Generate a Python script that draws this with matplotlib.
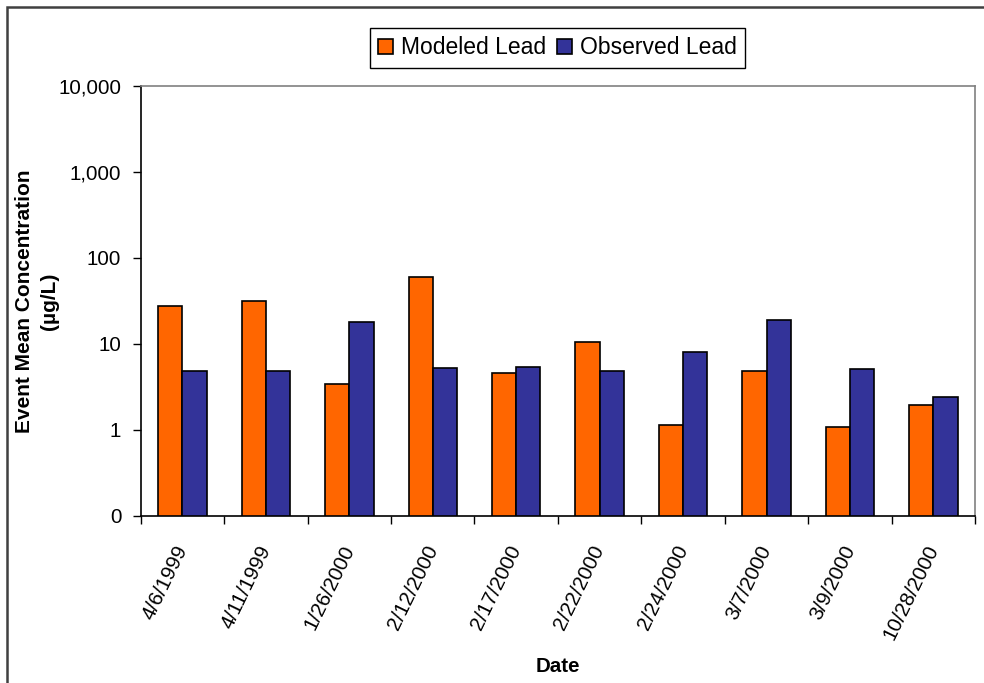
import matplotlib
matplotlib.use('Agg')
import matplotlib.pyplot as plt
from matplotlib.patches import Rectangle
import numpy as np

plt.rcParams['font.family'] = ['Liberation Sans', 'DejaVu Sans']

# datos
fechas = ['4/6/1999', '4/11/1999', '1/26/2000', '2/12/2000', '2/17/2000',
          '2/22/2000', '2/24/2000', '3/7/2000', '3/9/2000', '10/28/2000']
modelado = [27.8, 31.6, 3.43, 59.5, 4.6, 10.5, 1.14, 4.85, 1.09, 1.96]
observado = [4.85, 4.85, 17.9, 5.25, 5.4, 4.85, 8.0, 18.8, 5.07, 2.43]

y_ticks = [0.1, 1, 10, 100, 1000, 10000]
y_labels = ['0', '1', '10', '100', '1,000', '10,000']

# figura
fig = plt.figure(figsize=(9.84, 6.83), dpi=100)
ax = fig.add_axes([0.143, 0.245, 0.848, 0.629])

x = np.arange(len(fechas))
w = 0.29
ax.set_yscale('log')
ax.bar(x - w / 2, modelado, w, color='#FF6600', edgecolor='black',
       linewidth=1.2, label='Modeled Lead')
ax.bar(x + w / 2, observado, w, color='#333399', edgecolor='black',
       linewidth=1.2, label='Observed Lead')

ax.set_ylim(0.1, 10000)
ax.set_xlim(-0.5, len(fechas) - 0.5)
ax.set_yticks(y_ticks)
ax.set_yticklabels(y_labels)
ax.yaxis.set_minor_locator(matplotlib.ticker.NullLocator())

# ticks de x en los bordes de categoria
ax.set_xticks(np.arange(len(fechas) + 1) - 0.5)
ax.set_xticklabels([])
ax.set_xticks(x, minor=True)
ax.set_xticklabels(fechas, minor=True, rotation=64, ha='right', va='center',
                   rotation_mode='anchor', fontsize=14.8)
ax.tick_params(axis='x', which='minor', length=0, pad=22)
ax.tick_params(axis='x', which='major', length=6, width=1, direction='out')
ax.tick_params(axis='y', length=6, width=1, direction='out', labelsize=14.8, pad=8)

for s in ['left', 'bottom']:
    ax.spines[s].set_color('black')
    ax.spines[s].set_linewidth(1.2)
for s in ['top', 'right']:
    ax.spines[s].set_color('#808080')
    ax.spines[s].set_linewidth(1.2)

# etiquetas
fig.text(25 / 984, 1 - 301 / 683, 'Event Mean Concentration', rotation=90,
         ha='center', va='center', fontsize=15, fontweight='bold')
fig.text(50 / 984, 1 - 301 / 683, '(\u00b5g/L)', rotation=90,
         ha='center', va='center', fontsize=15, fontweight='bold')
fig.text(558 / 984, 1 - 667 / 683, 'Date', ha='center', va='center',
         fontsize=14.8, fontweight='bold')

leg = fig.legend(loc='center', bbox_to_anchor=(557.5 / 984, 1 - 48 / 683), ncol=2,
                 fontsize=16.5, fancybox=False, edgecolor='black', framealpha=1,
                 handlelength=0.65, handleheight=0.65, handletextpad=0.35,
                 columnspacing=0.45, borderpad=0.35)
leg.get_frame().set_linewidth(1.0)

# marco exterior
fig.patches.append(Rectangle((7 / 984, -0.05), 1.2, 1 - 7 / 683 + 0.05,
                             transform=fig.transFigure, fill=False,
                             edgecolor='#404040', linewidth=1.8))

fig.savefig('out.png', dpi=100)
